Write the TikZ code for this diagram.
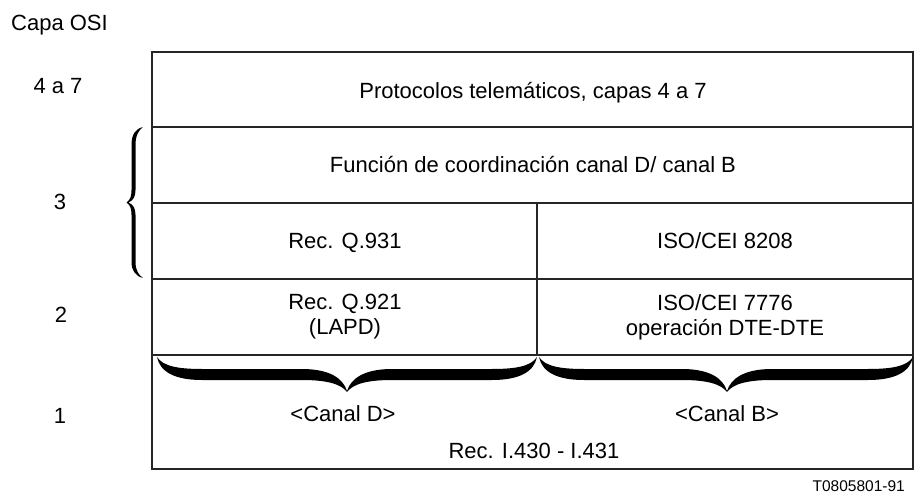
\documentclass[tikz,border=0pt]{standalone}
\usepackage{fontspec}
\setmainfont{Liberation Sans}
\begin{document}
\begin{tikzpicture}[x=1pt,y=-1pt,
  rule/.style={line width=1.3pt,draw=black!85},
  lbl/.style={font=\fontsize{22}{25}\selectfont,align=center,inner sep=0pt},
  small/.style={font=\fontsize{15.5}{18}\selectfont,inner sep=0pt},
  bracefill/.style={fill=black}]
\useasboundingbox (0,0) rectangle (915,494);
% frame and rows
\draw[rule] (152,52) rectangle (913,469);
\draw[rule] (152,127) -- (913,127);
\draw[rule] (152,203) -- (913,203);
\draw[rule] (152,279) -- (913,279);
\draw[rule] (152,355) -- (913,355);
\draw[rule] (537,203) -- (537,355);
% left brace for layer 3
\fill[bracefill] (143,127) .. controls (135,129) and (131.5,135) .. (131.5,145) -- (131.5,190)
  .. controls (131.5,197) and (130,200) .. (126.5,202.5) .. controls (130,205) and (131.5,208) .. (131.5,215)
  -- (131.5,262) .. controls (131.5,270) and (135,276) .. (143,278)
  .. controls (138.5,275) and (135.5,270) .. (135.5,262) -- (135.5,215)
  .. controls (135.5,208) and (133,204.5) .. (128.5,202.5) .. controls (133,200.5) and (135.5,197) .. (135.5,190)
  -- (135.5,145) .. controls (135.5,136) and (138.5,130) .. (143,127) -- cycle;
% horizontal braces
\fill[bracefill] (157,357) .. controls (163,366) and (177,369) .. (202,369) -- (302,369)
  .. controls (329,369) and (343,378) .. (347,391) .. controls (351,378) and (365,369) .. (392,369)
  -- (492,369) .. controls (517,369) and (531,366) .. (537,357)
  .. controls (534,372) and (519,380) .. (492,380) -- (392,380)
  .. controls (367,380) and (353,384) .. (347,392) .. controls (341,384) and (327,380) .. (302,380)
  -- (202,380) .. controls (175,380) and (160,372) .. (157,357) -- cycle;
\fill[bracefill] (539,357) .. controls (545,366) and (559,369) .. (584,369) -- (682,369)
  .. controls (709,369) and (723,378) .. (727,391) .. controls (731,378) and (745,369) .. (772,369)
  -- (868,369) .. controls (893,369) and (907,366) .. (913,357)
  .. controls (910,372) and (895,380) .. (868,380) -- (772,380)
  .. controls (747,380) and (733,384) .. (727,392) .. controls (721,384) and (707,380) .. (682,380)
  -- (584,380) .. controls (557,380) and (542,372) .. (539,357) -- cycle;
% texts
\node[lbl,anchor=base west] (capa) at (11,31) {Capa OSI};
\node[lbl,anchor=base] (l47) at (58,94) {4 a 7};
\node[lbl,anchor=base] (l3) at (60,210) {3};
\node[lbl,anchor=base] (l2) at (61,322) {2};
\node[lbl,anchor=base] (l1) at (60,423) {1};
\node[lbl,anchor=base] (prot) at (533,99) {Protocolos telemáticos, capas 4 a 7};
\node[lbl,anchor=base] (func) at (533,173) {Función de coordinación canal D/ canal B};
\node[lbl,anchor=base] (q931) at (345,249) {Rec. Q.931};
\node[lbl,anchor=base] (iso8208) at (725,249) {ISO/CEI 8208};
\node[lbl] (q921) at (345,317) {Rec. Q.921\\(LAPD)};
\node[lbl] (iso7776) at (725,317) {ISO/CEI 7776\\operación DTE-DTE};
\node[lbl,anchor=base] (cd) at (343,421) {<Canal D>};
\node[lbl,anchor=base] (cb) at (727,421) {<Canal B>};
\node[lbl,anchor=base] (i430) at (534,458) {Rec. I.430 - I.431};
\node[small,anchor=base east] (ref) at (905,491.5) {T0805801-91};
\end{tikzpicture}
\end{document}
